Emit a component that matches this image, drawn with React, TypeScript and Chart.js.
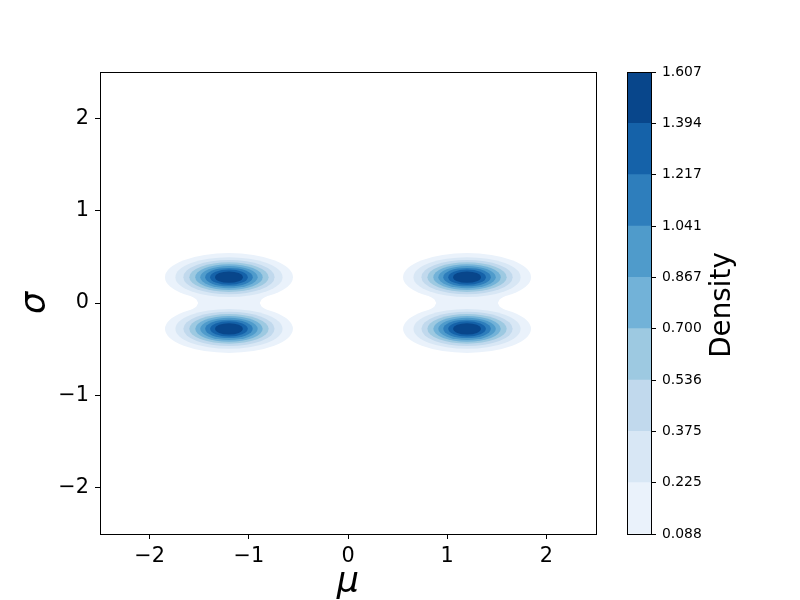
import React, { useEffect, useRef } from "react";
import { Chart, registerables } from "chart.js";

Chart.register(...registerables);

// ---- data ----
const xTickValues = [-2, -1, 0, 1, 2];
const yTickValues = [-2, -1, 0, 1, 2];
const muRange = [-2.5, 2.5];
const sigmaRange = [-2.5, 2.5];

// centres of the four density peaks
const blobMu = [-1.2, -1.2, 1.2, 1.2];
const blobSigma = [0.28, -0.28, 0.28, -0.28];
// centres of the two merged (outermost level) pairs
const pairMu = [-1.2, 1.2];
const pairSigma = [0, 0];

// contour levels (colorbar)
const densityLevels = [0.088, 0.225, 0.375, 0.536, 0.7, 0.867, 1.041, 1.217, 1.394, 1.607];
// contour half-widths / half-heights around each peak, one per level (outer -> inner)
const contourHalfWidthMu = [0.645, 0.54, 0.46, 0.4, 0.34, 0.29, 0.24, 0.19, 0.14];
const contourHalfHeightSigma = [0.26, 0.215, 0.185, 0.16, 0.14, 0.12, 0.1, 0.083, 0.062];
// outer-level "waist" joining the two peaks of a pair
const waistOffsetSigma = [0, 0.04, 0.08];
const waistHalfWidthMu = [0.31, 0.33, 0.39];

const bandColors = [
  "#eaf2fb",
  "#d8e7f5",
  "#c1d9ed",
  "#9dc9e1",
  "#72b2d8",
  "#4f9bcb",
  "#2e7ebc",
  "#1562a9",
  "#08468b",
];

const FONT = "DejaVu Sans";
const fmt = (v: number) => (v < 0 ? "\u2212" + Math.abs(v) : String(v));

const contourPlugin = {
  id: "contours",
  beforeDatasetsDraw(chart: any) {
    const { ctx, chartArea, scales } = chart;
    const x = scales.x;
    const y = scales.y;
    ctx.save();
    ctx.beginPath();
    ctx.rect(chartArea.left, chartArea.top, chartArea.right - chartArea.left, chartArea.bottom - chartArea.top);
    ctx.clip();

    const ellipse = (mu: number, sg: number, hw: number, hh: number, color: string) => {
      const cx = x.getPixelForValue(mu);
      const cy = y.getPixelForValue(sg);
      const rx = Math.abs(x.getPixelForValue(mu + hw) - cx);
      const ry = Math.abs(y.getPixelForValue(sg + hh) - cy);
      ctx.beginPath();
      ctx.ellipse(cx, cy, rx, ry, 0, 0, Math.PI * 2);
      ctx.fillStyle = color;
      ctx.fill();
    };

    // outermost level: both peaks + waist
    pairMu.forEach((pm, p) => {
      const ps = pairSigma[p];
      blobMu.forEach((m, i) => {
        if (m === pm) ellipse(m, blobSigma[i], contourHalfWidthMu[0], contourHalfHeightSigma[0], bandColors[0]);
      });
      const pts: [number, number][] = [];
      for (let k = waistOffsetSigma.length - 1; k >= 0; k--) pts.push([pm - waistHalfWidthMu[k], ps + waistOffsetSigma[k]]);
      for (let k = 1; k < waistOffsetSigma.length; k++) pts.push([pm - waistHalfWidthMu[k], ps - waistOffsetSigma[k]]);
      for (let k = waistOffsetSigma.length - 1; k >= 0; k--) pts.push([pm + waistHalfWidthMu[k], ps - waistOffsetSigma[k]]);
      for (let k = 1; k < waistOffsetSigma.length; k++) pts.push([pm + waistHalfWidthMu[k], ps + waistOffsetSigma[k]]);
      ctx.beginPath();
      pts.forEach(([m, s], i) => {
        const px = x.getPixelForValue(m);
        const py = y.getPixelForValue(s);
        if (i === 0) ctx.moveTo(px, py);
        else ctx.lineTo(px, py);
      });
      ctx.closePath();
      ctx.fillStyle = bandColors[0];
      ctx.fill();
    });

    // inner levels
    for (let lv = 1; lv < contourHalfWidthMu.length; lv++) {
      blobMu.forEach((m, i) => {
        ellipse(m, blobSigma[i], contourHalfWidthMu[lv], contourHalfHeightSigma[lv], bandColors[lv]);
      });
    }
    ctx.restore();
  },
  afterDraw(chart: any) {
    const { ctx, chartArea } = chart;
    ctx.save();
    ctx.strokeStyle = "#000";
    ctx.lineWidth = 1;
    const l = Math.round(chartArea.left) + 0.5;
    const t = Math.round(chartArea.top) + 0.5;
    const r = Math.round(chartArea.right) + 0.5;
    const b = Math.round(chartArea.bottom) + 0.5;
    ctx.strokeRect(l, t, r - l, b - t);
    ctx.restore();
  },
};

const colorbarPlugin = {
  id: "colorbarFrame",
  afterDraw(chart: any) {
    const { ctx, chartArea } = chart;
    ctx.save();
    ctx.strokeStyle = "#000";
    ctx.lineWidth = 1;
    const l = Math.round(chartArea.left) + 0.5;
    const t = Math.round(chartArea.top) + 0.5;
    const r = Math.round(chartArea.right) + 0.5;
    const b = Math.round(chartArea.bottom) + 0.5;
    ctx.strokeRect(l, t, r - l, b - t);
    // colorbar label
    ctx.translate(chartArea.right + 79, (chartArea.top + chartArea.bottom) / 2 + 2);
    ctx.rotate(-Math.PI / 2);
    ctx.fillStyle = "#000";
    ctx.font = `27.8px "${FONT}"`;
    ctx.textAlign = "center";
    ctx.textBaseline = "alphabetic";
    ctx.fillText("Density", 0, 0);
    ctx.restore();
  },
};

export default function App() {
  const mainRef = useRef<HTMLCanvasElement>(null);
  const barRef = useRef<HTMLCanvasElement>(null);

  useEffect(() => {
    document.body.style.margin = "0";
    const tickFont = { family: FONT, size: 20.8 };
    const gridCfg = {
      display: true,
      drawOnChartArea: false,
      drawTicks: true,
      tickLength: 5,
      color: "#000",
      lineWidth: 1,
    };

    const main = new Chart(mainRef.current as HTMLCanvasElement, {
      type: "scatter",
      data: {
        datasets: [
          {
            data: blobMu.map((m, i) => ({ x: m, y: blobSigma[i] })),
            pointRadius: 0,
            showLine: false,
          },
        ],
      },
      options: {
        responsive: false,
        animation: false,
        devicePixelRatio: 1,
        layout: { padding: { left: 0, top: 72, right: 204, bottom: 0 } },
        plugins: { legend: { display: false }, tooltip: { enabled: false } },
        scales: {
          x: {
            type: "linear",
            min: muRange[0],
            max: muRange[1],
            afterBuildTicks: (s: any) => {
              s.ticks = xTickValues.map((v) => ({ value: v }));
            },
            afterFit: (s: any) => {
              s.height = 66;
            },
            ticks: {
              font: tickFont,
              color: "#000",
              padding: 5,
              maxRotation: 0,
              autoSkip: false,
              callback: (v: any) => fmt(Number(v)),
            },
            grid: gridCfg,
            border: { display: false },
            title: {
              display: true,
              text: "\u03bc",
              color: "#000",
              font: { family: FONT, size: 35, style: "italic", lineHeight: 1 },
              padding: { top: 0, bottom: 0 },
            },
          },
          y: {
            type: "linear",
            min: sigmaRange[0],
            max: sigmaRange[1],
            afterBuildTicks: (s: any) => {
              s.ticks = yTickValues.map((v) => ({ value: v }));
            },
            afterFit: (s: any) => {
              s.width = 100;
            },
            ticks: {
              font: tickFont,
              color: "#000",
              padding: 6,
              autoSkip: false,
              callback: (v: any) => fmt(Number(v)),
            },
            grid: gridCfg,
            border: { display: false },
            title: {
              display: true,
              text: "\u03c3",
              color: "#000",
              font: { family: FONT, size: 35, style: "italic", lineHeight: 1 },
              padding: { top: 18, bottom: 0 },
            },
          },
        },
      } as any,
      plugins: [contourPlugin],
    });

    const bar = new Chart(barRef.current as HTMLCanvasElement, {
      type: "bar",
      data: {
        labels: [""],
        datasets: bandColors.map((c, i) => ({
          label: `${densityLevels[i]}–${densityLevels[i + 1]}`,
          data: [1],
          backgroundColor: c,
          borderWidth: 0,
          barPercentage: 1,
          categoryPercentage: 1,
        })),
      },
      options: {
        responsive: false,
        animation: false,
        devicePixelRatio: 1,
        layout: { padding: { left: 27, top: 72, right: 0, bottom: 66 } },
        plugins: { legend: { display: false }, tooltip: { enabled: false } },
        scales: {
          x: { display: false, stacked: true },
          y: {
            type: "linear",
            position: "right",
            stacked: true,
            min: 0,
            max: densityLevels.length - 1,
            afterBuildTicks: (s: any) => {
              s.ticks = densityLevels.map((_, i) => ({ value: i }));
            },
            afterFit: (s: any) => {
              s.width = 149;
            },
            ticks: {
              font: { family: FONT, size: 13.9 },
              color: "#000",
              padding: 6,
              autoSkip: false,
              callback: (v: any) => densityLevels[Number(v)].toFixed(3),
            },
            grid: gridCfg,
            border: { display: false },
          },
        },
      } as any,
      plugins: [colorbarPlugin],
    });

    return () => {
      main.destroy();
      bar.destroy();
    };
  }, []);

  return (
    <div style={{ position: "fixed", left: 0, top: 0, width: 800, height: 600, background: "#fff" }}>
      <canvas ref={mainRef} width={800} height={600} style={{ position: "absolute", left: 0, top: 0 }} />
      <canvas ref={barRef} width={200} height={600} style={{ position: "absolute", left: 600, top: 0 }} />
    </div>
  );
}
